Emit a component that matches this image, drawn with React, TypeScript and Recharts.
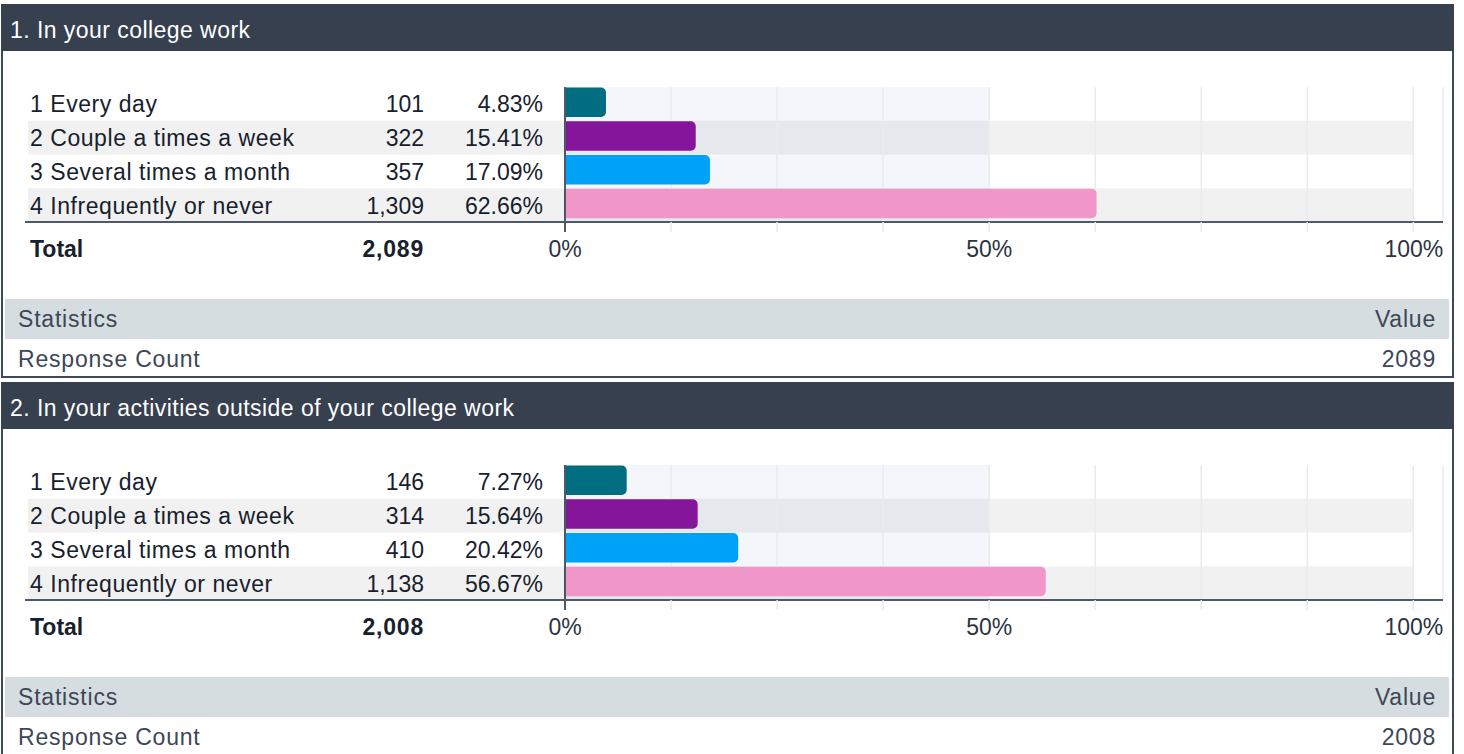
import React from 'react';
import { BarChart, Bar, XAxis, YAxis, CartesianGrid, ReferenceArea, Rectangle } from 'recharts';

// ---------- data ----------
const categories = ['1 Every day', '2 Couple a times a week', '3 Several times a month', '4 Infrequently or never'];
const q1Counts = [101, 322, 357, 1309];
const q1Percents = [4.83, 15.41, 17.09, 62.66];
const q1Total = 2089;
const q2Counts = [146, 314, 410, 1138];
const q2Percents = [7.27, 15.64, 20.42, 56.67];
const q2Total = 2008;
const questionTitles = ['1. In your college work', '2. In your activities outside of your college work'];
const barColors = ['#006e80', '#85169c', '#00a2f7', '#f096c8'];
const gridTicks = [0, 12.5, 25, 37.5, 50, 62.5, 75, 87.5, 100];
const labeledTicks = [0, 50, 100];
const statsHeader = ['Statistics', 'Value'];
const statsRowLabel = 'Response Count';
const totalLabel = 'Total';

// ---------- style / layout ----------
const FONT = '"Liberation Sans", Arial, Helvetica, sans-serif';
const FS = 23;
const CHART_W = 1460;
const CHART_H = 210;
const PLOT_TOP = 27;
const PLOT_H = 135;
const AXIS_X = 565;
const ROW_H = PLOT_H / categories.length;
const HEADER_BG = '#36404f';
const BORDER = '#3e4959';
const AXIS_COLOR = '#4e5969';
const GRID_COLOR = '#e8ebf0';
const BLUE_AREA = '#f3f6fa';
const LABEL_COLOR = '#17212d';
const STATS_BG = '#d5dde1';
const STATS_TEXT = '#3d4756';

function makeYTick(counts: number[], percents: number[]) {
  return (props: any) => {
    const { y, payload } = props;
    const i = categories.indexOf(payload.value);
    const top = y - ROW_H / 2;
    const base = y + 8.5;
    return (
      <g>
        {i % 2 === 1 && (
          <rect x={28} y={top} width={AXIS_X - 28} height={ROW_H} fill="#000" fillOpacity={0.055} />
        )}
        <text x={30} y={base} fontFamily={FONT} fontSize={FS} letterSpacing={0.55} fill={LABEL_COLOR}>{payload.value}</text>
        <text x={424} y={base} textAnchor="end" fontFamily={FONT} fontSize={FS} fill={LABEL_COLOR}>
          {counts[i].toLocaleString('en-US')}
        </text>
        <text x={543} y={base} textAnchor="end" fontFamily={FONT} fontSize={FS} fill={LABEL_COLOR}>
          {percents[i].toFixed(2) + '%'}
        </text>
        {i === categories.length - 1 && (
          <line x1={25} x2={AXIS_X} y1={top + ROW_H} y2={top + ROW_H} stroke={AXIS_COLOR} strokeWidth={2} />
        )}
      </g>
    );
  };
}

function makeXTick(total: number) {
  return (props: any) => {
    const { x, y, payload } = props;
    const v = payload.value;
    const isZero = v === 0;
    const isLast = v === 100;
    return (
      <g>
        <line x1={x} x2={x} y1={y} y2={y + 10} stroke={isZero ? AXIS_COLOR : GRID_COLOR} strokeWidth={isZero ? 2 : 1.5} />
        {labeledTicks.includes(v) && (
          <text x={isLast ? x + 30 : x} y={y + 35} textAnchor={isLast ? 'end' : 'middle'} fontFamily={FONT} fontSize={FS} fill="#2b3440">
            {v + '%'}
          </text>
        )}
        {isZero && (
          <g>
            <text x={30} y={y + 35} fontFamily={FONT} fontSize={FS} fontWeight="bold" fill={LABEL_COLOR}>{totalLabel}</text>
            <text x={424} y={y + 35} textAnchor="end" fontFamily={FONT} fontSize={FS} fontWeight="bold" letterSpacing={0.8} fill={LABEL_COLOR}>
              {total.toLocaleString('en-US')}
            </text>
          </g>
        )}
      </g>
    );
  };
}

const BarShape = (props: any) => {
  const { x, y, width, height, index } = props;
  return (
    <Rectangle x={x} y={y + 0.5} width={width} height={height - 4.5} radius={[0, 5, 5, 0]} fill={barColors[index]} />
  );
};

function QuestionChart({ counts, percents, total }: { counts: number[]; percents: number[]; total: number }) {
  const data = categories.map((label, i) => ({ label, pct: percents[i] }));
  return (
    <BarChart
      width={CHART_W}
      height={CHART_H}
      data={data}
      layout="vertical"
      barCategoryGap={0}
      margin={{ top: PLOT_TOP, right: 17, left: 0, bottom: CHART_H - PLOT_TOP - PLOT_H - 40 }}
    >
      <ReferenceArea x1={0} x2={50} fill={BLUE_AREA} fillOpacity={1} stroke="none" ifOverflow="visible" zIndex={-300} />
      {categories.map((c, i) =>
        i % 2 === 1 ? (
          <ReferenceArea key={c} y1={c} y2={c} x1={0} x2={100} fill="#000" fillOpacity={0.055} stroke="none" zIndex={-250} />
        ) : null
      )}
      <CartesianGrid horizontal={false} vertical stroke={GRID_COLOR} strokeWidth={1.5} />
      <XAxis
        type="number"
        domain={[0, 103.5]}
        ticks={gridTicks}
        interval={0}
        height={40}
        axisLine={{ stroke: AXIS_COLOR, strokeWidth: 2 }}
        tickLine={false}
        tickSize={0}
        tickMargin={0}
        tick={makeXTick(total)}
      />
      <YAxis
        type="category"
        dataKey="label"
        width={AXIS_X}
        interval={0}
        axisLine={{ stroke: AXIS_COLOR, strokeWidth: 2 }}
        tickLine={false}
        tick={makeYTick(counts, percents)}
      />
      <Bar dataKey="pct" isAnimationActive={false} shape={BarShape} />
    </BarChart>
  );
}

function Panel({ top, title, counts, percents, total }: any) {
  const textBase: React.CSSProperties = { fontFamily: FONT, fontSize: FS, position: 'absolute' };
  return (
    <>
      <div style={{ position: 'absolute', left: 1, top, width: 1453, height: 374, boxSizing: 'border-box', border: `2px solid ${BORDER}` }} />
      <div
        style={{
          ...textBase,
          left: 1,
          top,
          width: 1453,
          height: 47,
          background: HEADER_BG,
          color: '#ffffff',
          lineHeight: '53px',
          letterSpacing: '0.45px',
          paddingLeft: 9,
          boxSizing: 'border-box',
          whiteSpace: 'nowrap',
          overflow: 'hidden',
        }}
      >
        {title}
      </div>
      <div style={{ position: 'absolute', left: 0, top: top + 56 }}>
        <QuestionChart counts={counts} percents={percents} total={total} />
      </div>
      <div
        style={{
          ...textBase,
          left: 5,
          top: top + 295,
          width: 1444,
          height: 40,
          background: STATS_BG,
          color: STATS_TEXT,
          lineHeight: '40px',
          letterSpacing: '0.8px',
          boxSizing: 'border-box',
          padding: '0 13px 0 13px',
          display: 'flex',
          justifyContent: 'space-between',
        }}
      >
        <span>{statsHeader[0]}</span>
        <span>{statsHeader[1]}</span>
      </div>
      <div
        style={{
          ...textBase,
          left: 5,
          top: top + 335,
          width: 1444,
          height: 40,
          color: STATS_TEXT,
          lineHeight: '40px',
          letterSpacing: '0.8px',
          boxSizing: 'border-box',
          padding: '0 13px 0 13px',
          display: 'flex',
          justifyContent: 'space-between',
        }}
      >
        <span>{statsRowLabel}</span>
        <span>{String(total)}</span>
      </div>
    </>
  );
}

export default function App() {
  return (
    <div style={{ position: 'absolute', left: 0, top: 0, width: 1464, height: 754, overflow: 'hidden', background: '#ffffff' }}>
      <Panel top={4} title={questionTitles[0]} counts={q1Counts} percents={q1Percents} total={q1Total} />
      <Panel top={382} title={questionTitles[1]} counts={q2Counts} percents={q2Percents} total={q2Total} />
    </div>
  );
}
